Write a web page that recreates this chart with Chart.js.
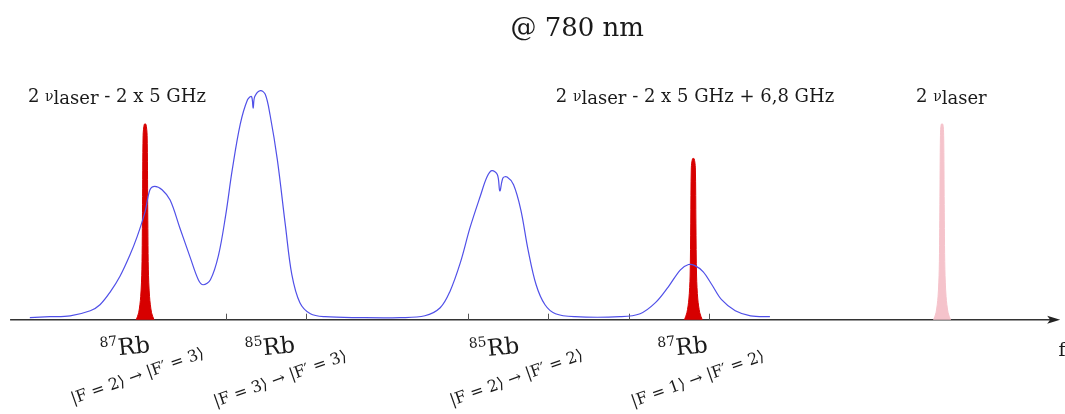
<!DOCTYPE html>
<html lang="fr">
<head>
    <meta charset="UTF-8">
    <title>Spectre Rb @ 780 nm</title>
    <script src="https://cdn.jsdelivr.net/npm/chart.js"></script>
    <style>
        html, body {
            margin: 0;
            padding: 0;
            background: #fff;
        }
        .chart-container {
            width: 1065px;
            height: 414px;
            position: relative;
        }
    </style>
</head>
<body>
    <div class="chart-container">
        <canvas id="spectrum"></canvas>
    </div>
    <script>
        // frequency offset in GHz (0 = first 87Rb line), signal in arbitrary units
        const absFreq = [-1.43, -1.18, -0.93, -0.68, -0.56, -0.43, -0.31, -0.19, -0.10, 0, 0.06, 0.12, 0.21, 0.31, 0.43, 0.56, 0.66, 0.72, 0.81, 0.91, 1.0, 1.08, 1.18, 1.27, 1.32, 1.34, 1.36, 1.43, 1.49, 1.55, 1.64, 1.74, 1.82, 1.92, 2.05, 2.23, 2.67, 3.16, 3.47, 3.66, 3.78, 3.91, 4.03, 4.16, 4.24, 4.30, 4.37, 4.40, 4.44, 4.49, 4.57, 4.66, 4.75, 4.85, 4.96, 5.09, 5.33, 5.89, 6.14, 6.33, 6.49, 6.64, 6.74, 6.82, 6.92, 7.03, 7.15, 7.32, 7.51, 7.75];
        const absSignal = [0.9, 1.3, 1.7, 3.9, 6.5, 12.2, 19, 28, 36, 47, 56.5, 58, 56.5, 52, 40, 27, 17.4, 15.2, 17.4, 28, 45.6, 65, 85, 95.6, 97, 92, 97, 99.6, 98, 89, 69.6, 41, 19.6, 7.4, 2.6, 1.3, 0.9, 0.9, 1.7, 5.2, 12.2, 24.8, 40, 54, 62, 64.8, 63, 56, 61.7, 62, 58.7, 47.8, 30.4, 15.2, 6.5, 2.6, 1.3, 1.3, 2.6, 7.4, 14.3, 21.7, 24, 23.5, 20.9, 15.2, 8.7, 3.9, 1.7, 1.3];

        // laser lines: 2*nu - 2x5 GHz, 2*nu - 2x5 GHz + 6.8 GHz, 2*nu
        const peak1Freq = [-0.11, -0.08, -0.055, -0.04, -0.032, -0.025, -0.01, 0.01, 0.025, 0.032, 0.04, 0.055, 0.08, 0.11];
        const peak1Signal = [0, 3, 10, 22, 50, 80, 85, 85, 80, 50, 22, 10, 3, 0];
        const peak2Freq = [6.69, 6.72, 6.745, 6.76, 6.768, 6.775, 6.79, 6.81, 6.825, 6.832, 6.84, 6.855, 6.88, 6.91];
        const peak2Signal = [0, 3, 9, 19, 42, 66, 70, 70, 66, 42, 19, 9, 3, 0];
        const peak3Freq = [9.78, 9.81, 9.835, 9.85, 9.858, 9.865, 9.875, 9.895, 9.905, 9.912, 9.92, 9.935, 9.96, 9.99];
        const peak3Signal = [0, 3, 10, 22, 50, 80, 85, 85, 80, 50, 22, 10, 3, 0];

        const tickFreqs = [1, 2, 4, 5, 6, 7];

        const isotopes = ['87', '85', '85', '87'];
        const transitions = ['|F = 2⟩ → |F′ = 3⟩', '|F = 3⟩ → |F′ = 3⟩', '|F = 2⟩ → |F′ = 2⟩', '|F = 1⟩ → |F′ = 2⟩'];
        const laserLabels = [' - 2 x 5 GHz', ' - 2 x 5 GHz + 6,8 GHz', ''];

        const toPoints = (xs, ys) => xs.map((x, i) => ({ x: x, y: ys[i] }));

        // where the text goes, in data units
        const isoPos = [[-0.25, -11.7], [1.55, -11.7], [4.33, -12], [6.67, -11.7]];
        const ketPos = [[-0.1, -24], [1.67, -25.2], [4.6, -24.8], [6.85, -25.2]];
        const laserPos = [[-0.35, 94.8], [6.82, 94.8], [10.0, 94.8]];

        const SERIF = '"DejaVu Serif", "Liberation Serif", serif';

        function drawRuns(ctx, runs, x, y) {
            // runs: [text, size, dy]; centred on x
            let total = 0;
            runs.forEach(r => {
                ctx.font = r[1] + 'px ' + SERIF;
                total += ctx.measureText(r[0]).width;
            });
            let cx = x - total / 2;
            ctx.textAlign = 'left';
            runs.forEach(r => {
                ctx.font = r[1] + 'px ' + SERIF;
                ctx.fillText(r[0], cx, y + r[2]);
                cx += ctx.measureText(r[0]).width;
            });
        }

        const decor = {
            id: 'decor',
            beforeDatasetsDraw(chart) {
                const ctx = chart.ctx;
                const xs = chart.scales.x;
                const ys = chart.scales.y;
                const y0 = ys.getPixelForValue(0);
                const xa = xs.getPixelForValue(-1.675);
                const xb = xs.getPixelForValue(11.35);
                ctx.save();
                ctx.strokeStyle = '#333';
                ctx.lineWidth = 1.6;
                ctx.beginPath();
                ctx.moveTo(xa, y0);
                ctx.lineTo(xb - 6, y0);
                ctx.stroke();
                ctx.fillStyle = '#222';
                ctx.beginPath();
                ctx.moveTo(xb, y0);
                ctx.lineTo(xb - 13, y0 - 4);
                ctx.lineTo(xb - 10, y0);
                ctx.lineTo(xb - 13, y0 + 4);
                ctx.closePath();
                ctx.fill();
                ctx.strokeStyle = '#555';
                ctx.lineWidth = 1;
                tickFreqs.forEach(f => {
                    const px = Math.round(xs.getPixelForValue(f)) + 0.5;
                    ctx.beginPath();
                    ctx.moveTo(px, y0);
                    ctx.lineTo(px, y0 - 6);
                    ctx.stroke();
                });
                ctx.restore();
            },
            afterDatasetsDraw(chart) {
                const ctx = chart.ctx;
                const xs = chart.scales.x;
                const ys = chart.scales.y;
                const P = (x, y) => [xs.getPixelForValue(x), ys.getPixelForValue(y)];
                ctx.save();
                ctx.fillStyle = '#1a1a1a';
                ctx.textBaseline = 'alphabetic';

                let p = P(5.36, 123.5);
                drawRuns(ctx, [['@ 780 nm', 26, 0]], p[0], p[1]);

                laserPos.forEach((pos, i) => {
                    p = P(pos[0], pos[1]);
                    drawRuns(ctx, [['2 ', 18, 0], ['ν', 14, -1], ['laser', 18, 2], [laserLabels[i], 18, 0]], p[0], p[1]);
                });

                isotopes.forEach((iso, i) => {
                    p = P(isoPos[i][0], isoPos[i][1]);
                    ctx.save();
                    ctx.translate(p[0], p[1]);
                    ctx.rotate(-6 * Math.PI / 180);
                    drawRuns(ctx, [[iso, 14, -10], ['Rb', 23, 0]], 0, 8);
                    ctx.restore();

                    p = P(ketPos[i][0], ketPos[i][1]);
                    ctx.save();
                    ctx.translate(p[0], p[1]);
                    ctx.rotate(-19.5 * Math.PI / 180);
                    drawRuns(ctx, [[transitions[i], 16, 0]], 0, 6);
                    ctx.restore();
                });

                p = P(11.33, -15.6);
                ctx.font = '19px ' + SERIF;
                ctx.textAlign = 'left';
                ctx.fillText('f', p[0], p[1]);
                ctx.restore();
            }
        };

        new Chart(document.getElementById('spectrum').getContext('2d'), {
            type: 'line',
            data: {
                datasets: [{
                    label: 'Absorption',
                    data: toPoints(absFreq, absSignal),
                    borderColor: 'rgb(80, 80, 232)',
                    borderWidth: 1.2,
                    pointRadius: 0,
                    tension: 0.35,
                    fill: false
                }, {
                    label: 'Laser 1',
                    data: toPoints(peak1Freq, peak1Signal),
                    borderColor: 'rgb(215, 0, 0)',
                    backgroundColor: 'rgb(215, 0, 0)',
                    borderWidth: 1,
                    pointRadius: 0,
                    tension: 0.3,
                    fill: 'origin'
                }, {
                    label: 'Laser 2',
                    data: toPoints(peak2Freq, peak2Signal),
                    borderColor: 'rgb(215, 0, 0)',
                    backgroundColor: 'rgb(215, 0, 0)',
                    borderWidth: 1,
                    pointRadius: 0,
                    tension: 0.3,
                    fill: 'origin'
                }, {
                    label: 'Laser 3',
                    data: toPoints(peak3Freq, peak3Signal),
                    borderColor: 'rgb(245, 195, 203)',
                    backgroundColor: 'rgb(245, 195, 203)',
                    borderWidth: 1,
                    pointRadius: 0,
                    tension: 0.3,
                    fill: 'origin'
                }]
            },
            options: {
                responsive: true,
                maintainAspectRatio: false,
                animation: false,
                layout: { padding: 0 },
                scales: {
                    x: { type: 'linear', min: -1.8, max: 11.41, display: false },
                    y: { min: -41, max: 139, display: false }
                },
                plugins: {
                    legend: { display: false },
                    tooltip: { enabled: false }
                }
            },
            plugins: [decor]
        });
    </script>
</body>
</html>
